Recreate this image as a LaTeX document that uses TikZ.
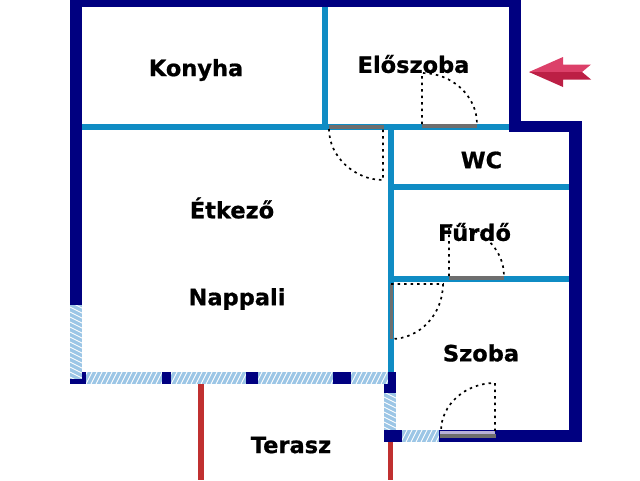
\documentclass[tikz,border=0pt]{standalone}
\usepackage{fontspec}
\newfontfamily\roomfont[FakeBold=0.8]{DejaVu Sans Bold}
\definecolor{wallnavy}{HTML}{000080}
\definecolor{wallblue}{HTML}{0F8CC4}
\definecolor{glassblue}{HTML}{9CC6E6}
\definecolor{doorgrey}{HTML}{6E6E6E}
\definecolor{doorlilac}{HTML}{B8B0D8}
\definecolor{terrared}{HTML}{C03030}
\definecolor{arrowlight}{HTML}{DC4069}
\definecolor{arrowdark}{HTML}{BC1F45}
\tikzset{
    outerwall/.style={fill=wallnavy},
    innerwall/.style={fill=wallblue},
    glasspane/.style={fill=glassblue},
    glassline/.style={white,line width=0.9pt},
    doorleaf/.style={fill=doorgrey},
    doorswing/.style={draw=black,line width=1.7pt,dash pattern=on 2.5pt off 4pt},
    terrace/.style={fill=terrared},
    roomlabel/.style={font=\roomfont\fontsize{22.5}{26}\selectfont,text=black}
}
\begin{document}
\begin{tikzpicture}[x=1pt,y=-1pt]
        \useasboundingbox (0,0) rectangle (640,480);
        % glass panes
        \fill[glasspane] (70,305) rectangle (82,379);
        \fill[glasspane] (86,372) rectangle (388,384);
        \fill[glasspane] (384,393) rectangle (396,430);
        \fill[glasspane] (402,430) rectangle (439,442);
        \begin{scope}
            \clip (86,372) rectangle (388,384) (402,430) rectangle (439,442);
            \foreach \x in {80,85,...,440} {
                \draw[glassline] (\x,444) -- (\x+8,428);
                \draw[glassline] (\x,386) -- (\x+8,370);
            }
        \end{scope}
        \begin{scope}
            \clip (70,305) rectangle (82,379) (384,393) rectangle (396,430);
            \foreach \y in {296,301,...,436} {
                \draw[glassline] (68,\y) -- (84,\y+8);
                \draw[glassline] (382,\y) -- (398,\y+8);
            }
        \end{scope}
        % outer walls
        \fill[outerwall] (70,0) rectangle (521,7);
        \fill[outerwall] (70,0) rectangle (82,305);
        \fill[outerwall] (509,0) rectangle (521,132);
        \fill[outerwall] (509,121) rectangle (582,132);
        \fill[outerwall] (569,121) rectangle (582,442);
        \fill[outerwall] (70,379) rectangle (86,384);
        \fill[outerwall] (82,372) rectangle (86,384);
        \fill[outerwall] (162,372) rectangle (171,384);
        \fill[outerwall] (246,372) rectangle (258,384);
        \fill[outerwall] (333,372) rectangle (351,384);
        \fill[outerwall] (388,372) rectangle (396,393);
        \fill[outerwall] (384,384) rectangle (396,393);
        \fill[outerwall] (384,430) rectangle (402,442);
        \fill[outerwall] (439,430) rectangle (582,442);
        % inner walls
        \fill[innerwall] (82,124) rectangle (509,130);
        \fill[innerwall] (322,7) rectangle (328,124);
        \fill[innerwall] (388,130) rectangle (394,372);
        \fill[innerwall] (394,184) rectangle (569,190);
        \fill[innerwall] (394,276) rectangle (569,282);
        % terrace
        \fill[terrace] (198,384) rectangle (204,480);
        \fill[terrace] (388,442) rectangle (393,480);
        % doors
        \fill[doorleaf] (329,125) rectangle (384,129);
        \draw[doorswing] (329,129) .. controls (329,157) and (355,180) .. (383,180) -- (383,129);
        \fill[doorleaf] (422,124) rectangle (477,128);
        \draw[doorswing] (422,124) -- (422,73) .. controls (452,73) and (477,96) .. (477,124);
        \fill[doorleaf] (449,276) rectangle (504,280);
        \draw[doorswing] (449,276) -- (449,225) .. controls (479,225) and (504,248) .. (504,276);
        \fill[doorleaf] (390,284) rectangle (393,339);
        \draw[doorswing] (391,284) -- (443,284) .. controls (443,314) and (420,339) .. (391,339);
        \fill[doorlilac] (440,431) rectangle (495,434);
        \fill[doorleaf] (440,434) rectangle (496,438);
        \draw[doorswing] (495,431) -- (495,383) .. controls (465,383) and (441,405) .. (441,431);
        % entrance arrow
        \fill[arrowlight] (529,72) -- (563,57) -- (563,64.5) -- (591,64.5) -- (582,72) -- cycle;
        \fill[arrowdark] (529,72) -- (563,87) -- (563,79.5) -- (591,79.5) -- (582,72) -- cycle;
        % rooms
        \node[roomlabel] (konyha) at (196,70) {Konyha};
        \node[roomlabel] (eloszoba) at (413.5,64) {Előszoba};
        \node[roomlabel] (wc) at (481.5,160) {WC};
        \node[roomlabel] (furdo) at (474.5,232) {Fűrdő};
        \node[roomlabel] (etkezo) at (232,208) {Étkező};
        \node[roomlabel] (nappali) at (237,299) {Nappali};
        \node[roomlabel] (szoba) at (481,353) {Szoba};
        \node[roomlabel] (terasz) at (291,445) {Terasz};
    \end{tikzpicture}
\end{document}
